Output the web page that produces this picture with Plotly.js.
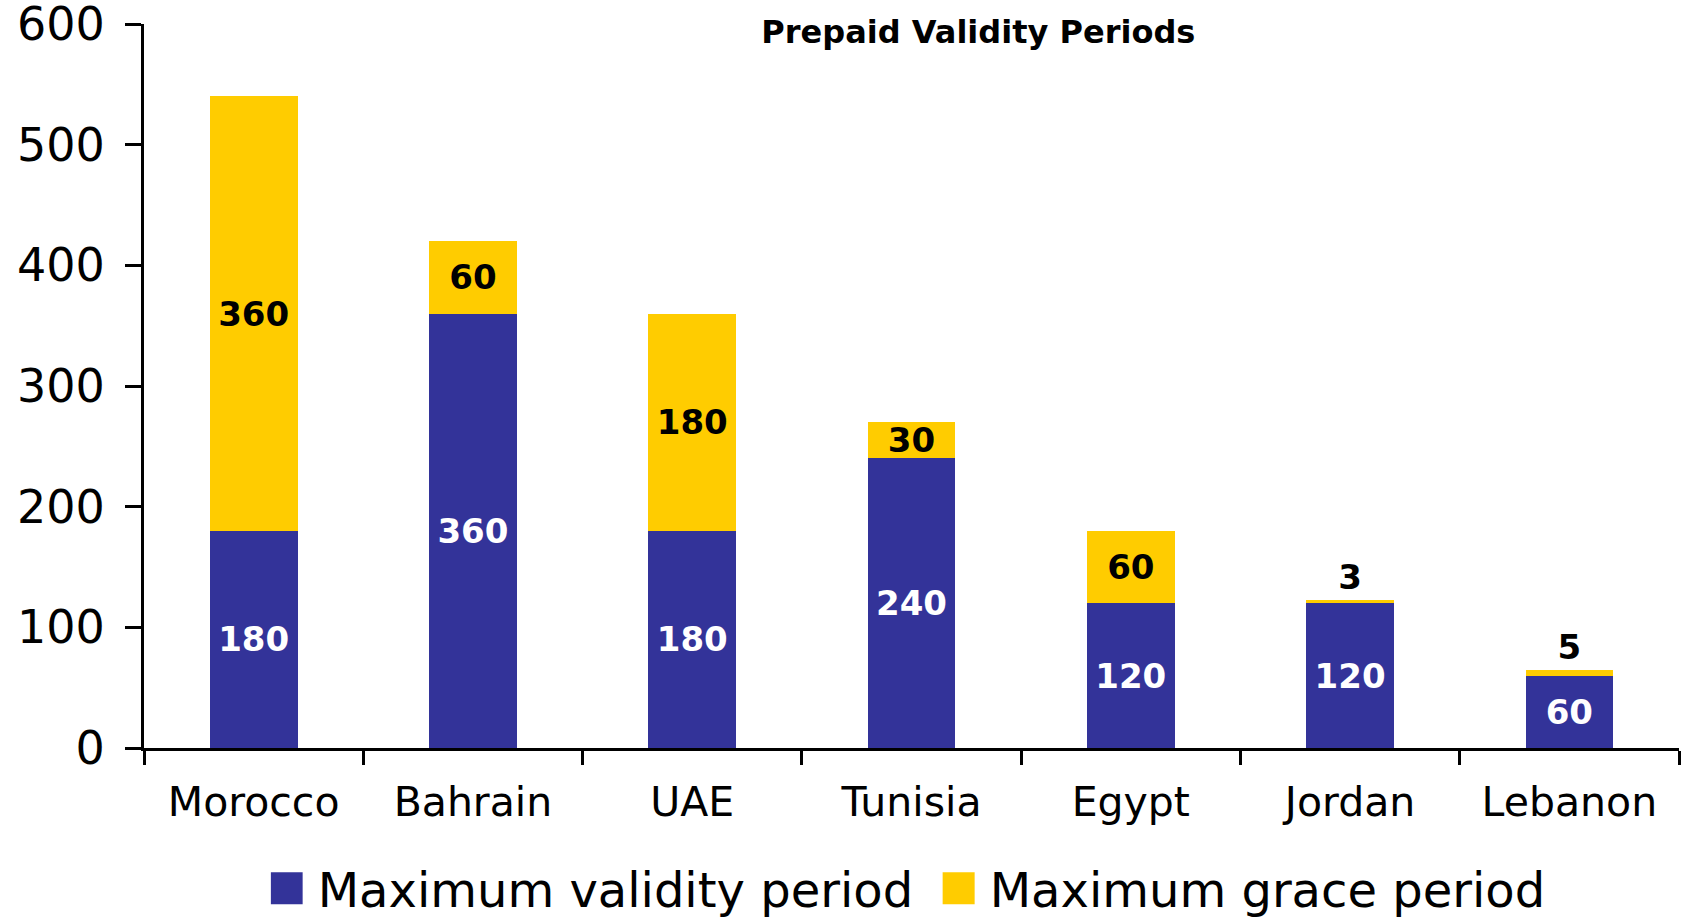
<!DOCTYPE html>
<html>
<head>
<meta charset="utf-8">
<script src="https://cdn.plot.ly/plotly-3.0.1.min.js"></script>
<style>html,body{margin:0;padding:0;background:#fff;}#chart{width:1681px;height:917px;}</style>
</head>
<body>
<div id="chart"></div>
<script>
const categories = ["Morocco", "Bahrain", "UAE", "Tunisia", "Egypt", "Jordan", "Lebanon"];
const validityValues = [180, 360, 180, 240, 120, 120, 60];
const graceValues = [360, 60, 180, 30, 60, 3, 5];
const seriesNames = ["Maximum validity period", "Maximum grace period"];
const yTickValues = [0, 100, 200, 300, 400, 500, 600];
const chartTitle = "Prepaid Validity Periods";

const FONT = "DejaVu Sans, Verdana, sans-serif";
const BLUE = "#333399";
const YELLOW = "#FFCC00";
const LABEL_SIZE = 34;

const traces = [
  {
    type: "bar",
    name: seriesNames[0],
    x: categories,
    y: validityValues,
    marker: {color: BLUE},
    text: validityValues.map(String),
    textposition: "inside",
    insidetextanchor: "middle",
    constraintext: "none",
    textfont: {family: FONT, size: LABEL_SIZE, color: "#ffffff", weight: "bold"},
    insidetextfont: {family: FONT, size: LABEL_SIZE, color: "#ffffff", weight: "bold"},
    hoverinfo: "x+y+name"
  },
  {
    type: "bar",
    name: seriesNames[1],
    x: categories,
    y: graceValues,
    marker: {color: YELLOW},
    text: graceValues.map(String),
    textposition: graceValues.map(v => v < 20 ? "outside" : "inside"),
    insidetextanchor: "middle",
    constraintext: "none",
    cliponaxis: false,
    textfont: {family: FONT, size: LABEL_SIZE, color: "#000000", weight: "bold"},
    insidetextfont: {family: FONT, size: LABEL_SIZE, color: "#000000", weight: "bold"},
    outsidetextfont: {family: FONT, size: LABEL_SIZE, color: "#000000", weight: "bold"},
    hoverinfo: "x+y+name"
  }
];

const layout = {
  width: 1681,
  height: 917,
  paper_bgcolor: "#ffffff",
  plot_bgcolor: "#ffffff",
  barmode: "stack",
  bargap: 0.6,
  margin: {l: 144, r: 2, t: 24, b: 169},
  font: {family: FONT, color: "#000000"},
  title: {
    text: "<b>" + chartTitle + "</b>",
    font: {family: FONT, size: 32, color: "#000000"},
    xref: "container", x: 0.582, xanchor: "center",
    yref: "container", y: 0.965, yanchor: "middle"
  },
  xaxis: {
    type: "category",
    tickson: "boundaries",
    ticks: "outside",
    ticklen: 14,
    tickwidth: 3,
    tickcolor: "#000",
    showline: true,
    linewidth: 3,
    linecolor: "#000",
    showgrid: false,
    zeroline: false,
    tickfont: {family: FONT, size: 41, color: "#000"},
    ticklabelstandoff: 16,
    ticklabeloverflow: "allow",
    fixedrange: true
  },
  yaxis: {
    range: [0, 600],
    tickvals: yTickValues,
    ticktext: yTickValues.map(String),
    ticks: "outside",
    ticklen: 16,
    tickwidth: 3,
    tickcolor: "#000",
    showline: true,
    linewidth: 3,
    linecolor: "#000",
    showgrid: false,
    zeroline: false,
    tickfont: {family: FONT, size: 46, color: "#000"},
    ticklabelstandoff: 11,
    ticklabeloverflow: "allow",
    fixedrange: true
  },
  showlegend: true,
  legend: {
    orientation: "h",
    xref: "container", x: 0.161, xanchor: "left",
    yref: "container", y: 0.031, yanchor: "middle",
    bgcolor: "rgba(0,0,0,0)",
    entrywidth: 627,
    entrywidthmode: "pixels",
    font: {family: FONT, size: 48, color: "#000"},
    traceorder: "normal",
    itemclick: false,
    itemdoubleclick: false
  }
};

Plotly.newPlot("chart", traces, layout, {displayModeBar: false, staticPlot: true}).then(function () {
  document.querySelectorAll(".legendpoints path").forEach(function (p) {
    p.setAttribute("d", "M12,16H-20V-16H12Z");
  });
  document.querySelectorAll(".legendtext").forEach(function (t) {
    t.setAttribute("transform", "translate(7,0)");
  });
});
</script>
</body>
</html>
